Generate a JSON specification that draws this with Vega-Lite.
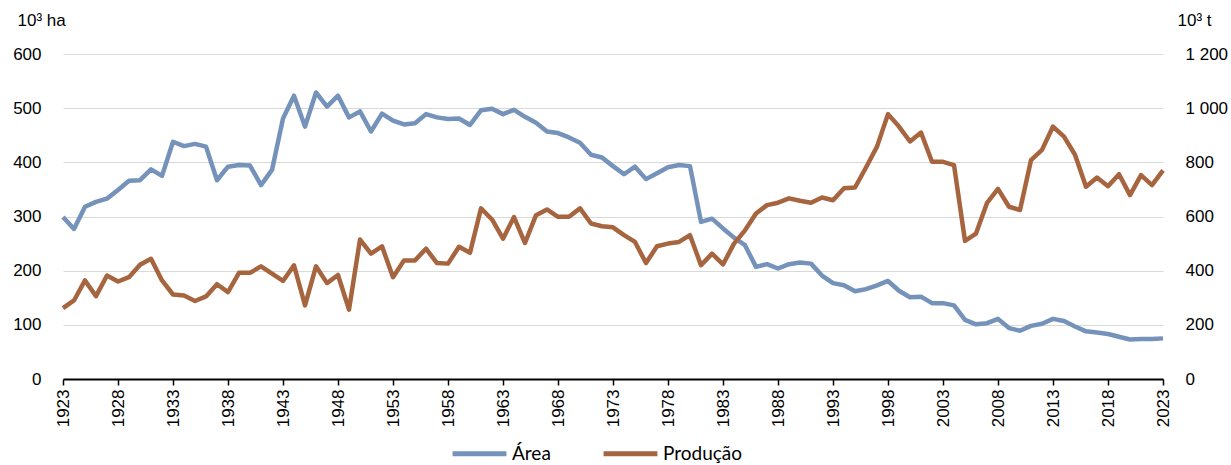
{
  "$schema": "https://vega.github.io/schema/vega-lite/v6.json",
  "width": 1100,
  "height": 325,
  "autosize": "none",
  "padding": {"left": 63, "top": 54, "right": 68, "bottom": 86},
  "background": "white",
  "config": {
    "view": {"stroke": null},
    "font": "Liberation Sans",
    "axis": {"labelFont": "Liberation Sans", "labelFontSize": 17, "labelColor": "#000000", "titleFont": "Liberation Sans", "titleFontSize": 17, "titleFontWeight": "normal", "titleColor": "#000000"}
  },
  "data": {"values": [
    {"ano":1923,"area":299,"producao":262},{"ano":1924,"area":277,"producao":290},{"ano":1925,"area":318,"producao":364},{"ano":1926,"area":327,"producao":306},{"ano":1927,"area":333,"producao":382},{"ano":1928,"area":349,"producao":360},{"ano":1929,"area":366,"producao":376},{"ano":1930,"area":367,"producao":422},{"ano":1931,"area":387,"producao":444},{"ano":1932,"area":375,"producao":364},
    {"ano":1933,"area":438,"producao":312},{"ano":1934,"area":430,"producao":308},{"ano":1935,"area":434,"producao":288},{"ano":1936,"area":429,"producao":305},{"ano":1937,"area":367,"producao":350},{"ano":1938,"area":392,"producao":321},{"ano":1939,"area":395,"producao":392},{"ano":1940,"area":394,"producao":392},{"ano":1941,"area":358,"producao":416},{"ano":1942,"area":386,"producao":389},
    {"ano":1943,"area":481,"producao":362},{"ano":1944,"area":523,"producao":420},{"ano":1945,"area":466,"producao":272},{"ano":1946,"area":529,"producao":416},{"ano":1947,"area":503,"producao":354},{"ano":1948,"area":523,"producao":384},{"ano":1949,"area":483,"producao":256},{"ano":1950,"area":494,"producao":515},{"ano":1951,"area":457,"producao":463},{"ano":1952,"area":490,"producao":490},
    {"ano":1953,"area":477,"producao":376},{"ano":1954,"area":470,"producao":438},{"ano":1955,"area":472,"producao":438},{"ano":1956,"area":489,"producao":481},{"ano":1957,"area":483,"producao":428},{"ano":1958,"area":480,"producao":426},{"ano":1959,"area":481,"producao":488},{"ano":1960,"area":469,"producao":466},{"ano":1961,"area":496,"producao":630},{"ano":1962,"area":499,"producao":589},
    {"ano":1963,"area":489,"producao":518},{"ano":1964,"area":497,"producao":598},{"ano":1965,"area":484,"producao":502},{"ano":1966,"area":473,"producao":605},{"ano":1967,"area":457,"producao":626},{"ano":1968,"area":454,"producao":599},{"ano":1969,"area":446,"producao":599},{"ano":1970,"area":436,"producao":630},{"ano":1971,"area":414,"producao":574},{"ano":1972,"area":409,"producao":564},
    {"ano":1973,"area":393,"producao":560},{"ano":1974,"area":378,"producao":531},{"ano":1975,"area":392,"producao":506},{"ano":1976,"area":369,"producao":428},{"ano":1977,"area":380,"producao":490},{"ano":1978,"area":391,"producao":500},{"ano":1979,"area":395,"producao":506},{"ano":1980,"area":393,"producao":531},{"ano":1981,"area":290,"producao":420},{"ano":1982,"area":296,"producao":463},
    {"ano":1983,"area":278,"producao":423},{"ano":1984,"area":261,"producao":500},{"ano":1985,"area":247,"producao":549},{"ano":1986,"area":207,"producao":611},{"ano":1987,"area":212,"producao":642},{"ano":1988,"area":204,"producao":651},{"ano":1989,"area":212,"producao":667},{"ano":1990,"area":215,"producao":658},{"ano":1991,"area":213,"producao":651},{"ano":1992,"area":191,"producao":670},
    {"ano":1993,"area":177,"producao":660},{"ano":1994,"area":173,"producao":704},{"ano":1995,"area":162,"producao":707},{"ano":1996,"area":166,"producao":781},{"ano":1997,"area":173,"producao":858},{"ano":1998,"area":181,"producao":978},{"ano":1999,"area":163,"producao":932},{"ano":2000,"area":151,"producao":877},{"ano":2001,"area":152,"producao":910},{"ano":2002,"area":140,"producao":802},
    {"ano":2003,"area":140,"producao":802},{"ano":2004,"area":136,"producao":790},{"ano":2005,"area":109,"producao":510},{"ano":2006,"area":101,"producao":537},{"ano":2007,"area":103,"producao":650},{"ano":2008,"area":111,"producao":702},{"ano":2009,"area":94,"producao":636},{"ano":2010,"area":89,"producao":624},{"ano":2011,"area":98,"producao":808},{"ano":2012,"area":102,"producao":846},
    {"ano":2013,"area":111,"producao":932},{"ano":2014,"area":107,"producao":895},{"ano":2015,"area":97,"producao":828},{"ano":2016,"area":88,"producao":710},{"ano":2017,"area":86,"producao":744},{"ano":2018,"area":83,"producao":712},{"ano":2019,"area":78,"producao":756},{"ano":2020,"area":73,"producao":679},{"ano":2021,"area":74,"producao":753},{"ano":2022,"area":74,"producao":716},
    {"ano":2023,"area":75,"producao":770}
  ]},
  "layer": [
    {
      "mark": {"type": "line", "strokeWidth": 4.5, "strokeJoin": "round", "strokeCap": "butt"},
      "encoding": {
        "x": {"field": "ano", "type": "quantitative", "scale": {"domain": [1923, 2023], "nice": false, "zero": false},
          "axis": {"values": [1923,1928,1933,1938,1943,1948,1953,1958,1963,1968,1973,1978,1983,1988,1993,1998,2003,2008,2013,2018,2023], "format": "d", "labelAngle": -90, "title": null, "grid": false, "domainColor": "#000000", "domainWidth": 2, "tickColor": "#000000", "tickSize": 6, "tickWidth": 1.5, "labelPadding": 4}},
        "y": {"field": "area", "type": "quantitative", "scale": {"domain": [0, 600], "nice": false},
          "axis": {"orient": "left", "values": [0,100,200,300,400,500,600], "grid": true, "gridColor": "#D9D9D9", "gridWidth": 1.2, "domain": false, "ticks": false, "labelPadding": 22, "title": "10³ ha", "titleAngle": 0, "titleX": -46, "titleY": -34, "titleAlign": "left", "titleBaseline": "middle"}},
        "color": {"datum": "Área", "type": "nominal", "scale": {"domain": ["Área", "Produção"], "range": ["#7592BA", "#A6653F"]},
          "legend": {"title": null, "orient": "none", "legendX": 387, "legendY": 370, "direction": "horizontal", "symbolType": "stroke", "symbolStrokeWidth": 5, "symbolSize": 2900, "labelFont": "Lato", "labelFontSize": 19, "labelColor": "#000000", "labelOffset": 3, "columnPadding": 42, "padding": 0}}
      }
    },
    {
      "mark": {"type": "line", "strokeWidth": 4.5, "strokeJoin": "round", "strokeCap": "butt"},
      "encoding": {
        "x": {"field": "ano", "type": "quantitative"},
        "y": {"field": "producao", "type": "quantitative", "scale": {"domain": [0, 1200], "nice": false},
          "axis": {"orient": "right", "values": [0,200,400,600,800,1000,1200], "grid": false, "domain": false, "ticks": false, "labelPadding": 22, "labelExpr": "replace(format(datum.value, ','), ',', ' ')", "title": "10³ t", "titleAngle": 0, "titleX": 14, "titleY": -34, "titleAlign": "left", "titleBaseline": "middle"}},
        "color": {"datum": "Produção", "type": "nominal"}
      }
    }
  ],
  "resolve": {"scale": {"y": "independent"}}
}
